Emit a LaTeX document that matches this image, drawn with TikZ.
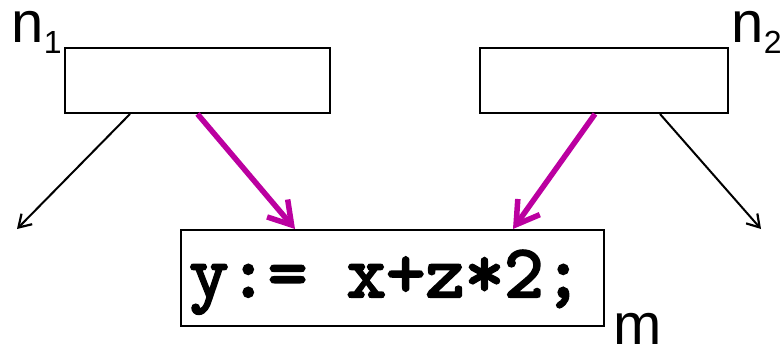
\documentclass[tikz,border=0pt]{standalone}
\usepackage{fontspec}
\setmainfont{Liberation Sans}
\newfontfamily\codefont{lmmono10-regular.otf}[FakeBold=3]
\usetikzlibrary{arrows.meta,calc}
\definecolor{mag}{RGB}{187,0,160}
\begin{document}
\begin{tikzpicture}[x=1pt,y=-1pt,
  blk/.style={draw=black,line width=2pt,inner sep=0pt,fill=white},
  thinarr/.style={line width=2pt,-{Straight Barb[length=12pt,width=15pt,line width=2.2pt]}},
  magarr/.style={draw=mag,line width=5.5pt,-{Straight Barb[length=22pt,width=27pt,line width=5.5pt]}},
  lbl/.style={inner sep=0pt,anchor=base west,font=\fontsize{58}{60}\selectfont},
  sub/.style={inner sep=0pt,anchor=base west,font=\fontsize{32}{34}\selectfont}]
\useasboundingbox (0,0) rectangle (780,348);
\node[blk,minimum width=265pt,minimum height=65pt] (n1) at (197.5,80.5) {};
\node[blk,minimum width=248pt,minimum height=65pt] (n2) at (604,80.5) {};
\node[blk,minimum width=423pt,minimum height=96pt] (m) at (392.5,278) {};
\node[inner sep=0pt,anchor=base west,font=\fontsize{75}{78}\selectfont\codefont] (code) at (189,297) {y:= x+z*2;};
\node[lbl] (ln1) at (11,42) {n};
\node[sub] (ls1) at (ln1.base east) [yshift=-11pt] {1};
\node[lbl] (ln2) at (731,42) {n};
\node[sub] (ls2) at (ln2.base east) [yshift=-11pt] {2};
\node[lbl] (lm) at (613,344) {m};
\coordinate (e1) at (17,229);
\coordinate (e2) at (761,229);
\draw[thinarr] ($(n1.south west)+(66,0)$) -- (e1);
\draw[thinarr] ($(n2.south west)+(181,0)$) -- (e2);
\draw[magarr] (n1.south) -- ($(m.north west)+(115,0)$);
\draw[magarr] ($(n2.south west)+(116,0)$) -- ($(m.north west)+(333,0)$);
\end{tikzpicture}
\end{document}
